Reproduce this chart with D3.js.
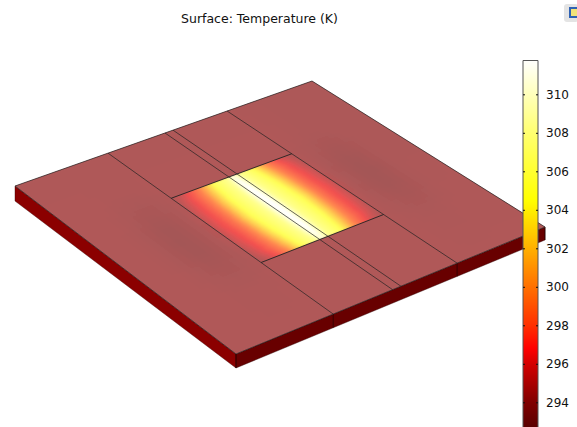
<!DOCTYPE html>
<meta charset="utf-8">
<style>
  html, body { margin: 0; background: #fff; }
  text { font-family: "DejaVu Sans", sans-serif; }
</style>
<script src="https://d3js.org/d3.v7.min.js"></script>
<div id="my_dataviz"></div>
<script>

// colorbar ticks (K)
var tickLabels = [294, 296, 298, 300, 302, 304, 306, 308, 310];

// colormap of the bar and the same map as it looks on the lit surface
var colorTemps = [292.7, 294, 296, 296.8, 298, 300, 302, 304.5, 308, 311.8];
var barColors = ['#5a0000', '#800000', '#d40000', '#ff0000', '#ff3000', '#ff7000', '#ffb000', '#ffff00', '#ffff70', '#ffffff'];
var surfaceTemps = [293.5, 295, 296.8, 298, 300, 302, 304.5, 308, 311];
var surfaceColors = ['#9d5656', '#b05858', '#f25050', '#fa6650', '#ff8a50', '#ffc050', '#ffff55', '#ffff90', '#ffffff'];

// plate temperatures: rows follow plateV, columns follow plateU
var plateU = [0, 0.08, 0.12, 0.16, 0.2, 0.24, 0.3, 0.5, 0.7, 0.76, 0.8, 0.84, 0.88, 0.92, 1];
var plateV = [0, 0.22, 0.32, 0.42, 0.5, 0.58, 0.68, 0.78, 1];
var plateTemps = [
  [294.9, 294.9, 294.9, 294.9, 294.9, 294.9, 294.9, 294.9, 294.9, 294.8, 294.8, 294.8, 294.8, 294.8, 294.8],
  [295.0, 295.0, 295.0, 294.9, 294.9, 294.9, 295.0, 295.0, 295.0, 294.9, 294.8, 294.8, 294.8, 294.8, 294.8],
  [295.0, 295.0, 294.9, 294.7, 294.5, 294.6, 295.0, 295.0, 295.0, 294.7, 294.5, 294.5, 294.7, 294.8, 294.8],
  [295.0, 295.0, 294.8, 294.4, 294.1, 294.4, 295.2, 295.0, 295.2, 294.5, 294.1, 294.2, 294.6, 294.8, 294.8],
  [295.0, 295.0, 294.8, 294.3, 294.0, 294.4, 295.3, 295.0, 295.3, 294.5, 294.0, 294.1, 294.6, 294.8, 294.8],
  [295.0, 295.0, 294.8, 294.4, 294.1, 294.4, 295.2, 295.0, 295.2, 294.5, 294.1, 294.2, 294.6, 294.8, 294.9],
  [295.0, 295.0, 294.9, 294.7, 294.5, 294.6, 295.0, 295.0, 295.0, 294.7, 294.5, 294.5, 294.7, 294.9, 294.9],
  [295.0, 295.0, 295.0, 294.9, 294.9, 294.9, 295.0, 295.0, 295.0, 294.9, 294.8, 294.8, 294.9, 294.9, 294.9],
  [295.0, 295.0, 295.0, 295.0, 295.0, 295.0, 295.0, 295.0, 295.0, 295.0, 295.0, 295.0, 295.0, 295.0, 295.0]
];

// heater temperatures, in the middle block of the plate
var heaterU = [0.3, 0.32, 0.34, 0.36, 0.38, 0.4, 0.42, 0.44, 0.46, 0.48, 0.5, 0.52, 0.54, 0.56, 0.58, 0.6, 0.62, 0.64, 0.66, 0.68, 0.7];
var heaterV = [0.3, 0.34, 0.4, 0.5, 0.6, 0.66, 0.7];
var heaterTemps = [
  [295.0, 295.4, 296.1, 297.2, 298.8, 300.8, 303.0, 305.0, 306.6, 308.0, 310.0, 308.0, 306.6, 305.0, 303.0, 300.8, 298.8, 297.2, 296.1, 295.4, 295.0],
  [295.2, 295.9, 296.7, 298.0, 299.6, 301.6, 303.6, 305.4, 306.9, 308.6, 311.0, 308.6, 306.9, 305.4, 303.6, 301.6, 299.6, 298.0, 296.7, 295.9, 295.2],
  [295.5, 296.2, 297.0, 298.3, 300.2, 302.3, 304.2, 305.8, 307.2, 309.0, 311.4, 309.0, 307.2, 305.8, 304.2, 302.3, 300.2, 298.3, 297.0, 296.2, 295.5],
  [295.6, 296.4, 297.2, 298.6, 300.6, 302.8, 304.6, 306.0, 307.4, 309.2, 311.7, 309.2, 307.4, 306.0, 304.6, 302.8, 300.6, 298.6, 297.2, 296.4, 295.6],
  [295.5, 296.2, 297.0, 298.3, 300.2, 302.3, 304.2, 305.8, 307.2, 309.0, 311.4, 309.0, 307.2, 305.8, 304.2, 302.3, 300.2, 298.3, 297.0, 296.2, 295.5],
  [295.2, 295.9, 296.7, 298.0, 299.6, 301.6, 303.6, 305.4, 306.9, 308.6, 311.0, 308.6, 306.9, 305.4, 303.6, 301.6, 299.6, 298.0, 296.7, 295.9, 295.2],
  [295.0, 295.4, 296.1, 297.2, 298.8, 300.8, 303.0, 305.0, 306.6, 308.0, 310.0, 308.0, 306.6, 305.0, 303.0, 300.8, 298.8, 297.2, 296.1, 295.4, 295.0]
];

// positions of the domain boundaries on the plate
var stripLines = [0.2986, 0.488, 0.515, 0.7];
var blockV = [0.3, 0.7];

var width = 577, height = 427;

var svg = d3.select("#my_dataviz")
  .append("svg")
    .attr("width", width)
    .attr("height", height)
    .style("display", "block");

// camera: unit square of the plate -> screen, with perspective
function project(u, v) {
  var w = 0.0706 * u - 0.0921 * v + 1;
  return [(319.03 * u + 199.27 * v + 15) / w, (-99.28 * u + 135.4 * v + 186) / w];
}
function poly(pts) {
  return pts.map(function(d) { return project(d[0], d[1]).join(","); }).join(" ");
}
// side thickness along the two visible edges
var depthFront = d3.scaleLinear().domain([0, 1]).range([14, 13]);
var depthLeft = d3.scaleLinear().domain([0, 1]).range([15, 14]);

var surfaceColor = d3.scaleLinear().domain(surfaceTemps).range(surfaceColors).clamp(true);
var barColor = d3.scaleLinear().domain(colorTemps).range(barColors).clamp(true);

// linear lookup between the table values, only used to shade each small facet
function lookup(us, vs, table, u, v) {
  var i = Math.min(Math.max(d3.bisectRight(us, u) - 1, 0), us.length - 2),
      j = Math.min(Math.max(d3.bisectRight(vs, v) - 1, 0), vs.length - 2),
      s = (u - us[i]) / (us[i + 1] - us[i]),
      t = (v - vs[j]) / (vs[j + 1] - vs[j]);
  var a = table[j][i] * (1 - s) + table[j][i + 1] * s,
      b = table[j + 1][i] * (1 - s) + table[j + 1][i + 1] * s;
  return a * (1 - t) + b * t;
}
function facets(g, us, vs, table, du, dv) {
  var cells = [];
  d3.range(us[0], us[us.length - 1] - 1e-6, du).forEach(function(u) {
    d3.range(vs[0], vs[vs.length - 1] - 1e-6, dv).forEach(function(v) {
      cells.push({u: u, v: v, t: lookup(us, vs, table, u + du / 2, v + dv / 2)});
    });
  });
  g.selectAll("polygon")
    .data(cells)
    .enter().append("polygon")
      .attr("points", function(d) {
        return poly([[d.u, d.v], [d.u + du, d.v], [d.u + du, d.v + dv], [d.u, d.v + dv]]);
      })
      .attr("shape-rendering", "crispEdges")
      .attr("fill", function(d) { return surfaceColor(d.t); })
      .attr("stroke", function(d) { return surfaceColor(d.t); })
      .attr("stroke-width", 1);
}

var defs = svg.append("defs");
defs.append("clipPath").attr("id", "plateClip")
  .append("polygon").attr("points", poly([[0, 0], [1, 0], [1, 1], [0, 1]]));
defs.append("clipPath").attr("id", "heaterClip")
  .append("polygon").attr("points", poly([[0.3, 0.3], [0.7, 0.3], [0.7, 0.7], [0.3, 0.7]]));
defs.append("filter").attr("id", "soft")
  .attr("x", "-5%").attr("y", "-5%").attr("width", "110%").attr("height", "110%")
  .append("feGaussianBlur").attr("stdDeviation", 0.8);

// title
svg.append("text")
  .attr("x", 259.5)
  .attr("y", 23)
  .attr("text-anchor", "middle")
  .attr("font-size", 12.5)
  .attr("fill", "#111")
  .text("Surface: Temperature (K)");

// little toolbar icon cut off by the window
var icon = svg.append("g");
icon.append("rect").attr("x", 564).attr("y", 4).attr("width", 14).attr("height", 18).attr("rx", 3).attr("fill", "#e4e4e4");
icon.append("rect").attr("x", 569).attr("y", 7).attr("width", 9).attr("height", 11).attr("fill", "#2f62b4");
icon.append("rect").attr("x", 571).attr("y", 9).attr("width", 7).attr("height", 7).attr("fill", "#f2e27a");

// sides of the plate
var p00 = project(0, 0), p01 = project(0, 1), p11 = project(1, 1);
svg.append("polygon")
  .attr("points", [p00, p01, [p01[0], p01[1] + depthLeft(1)], [p00[0], p00[1] + depthLeft(0)]].join(" "))
  .attr("fill", "#8b0000")
  .attr("stroke", "#3a0000")
  .attr("stroke-width", 0.4);
svg.append("polygon")
  .attr("points", [p01, p11, [p11[0], p11[1] + depthFront(1)], [p01[0], p01[1] + depthFront(0)]].join(" "))
  .attr("fill", "#680000")
  .attr("stroke", "#2a0000")
  .attr("stroke-width", 0.4);
[0, stripLines[0], stripLines[3], 1].forEach(function(u) {
  var p = project(u, 1);
  svg.append("line")
    .attr("x1", p[0]).attr("y1", p[1])
    .attr("x2", p[0]).attr("y2", p[1] + depthFront(u))
    .attr("stroke", "#220000").attr("stroke-width", 0.7);
});

// top surface
svg.append("polygon")
  .attr("points", poly([[0, 0], [1, 0], [1, 1], [0, 1]]))
  .attr("fill", surfaceColor(295));
var plateLayer = svg.append("g").attr("clip-path", "url(#plateClip)").append("g").attr("filter", "url(#soft)");
facets(plateLayer, plateU, plateV, plateTemps, 0.02, 0.02);
var heaterLayer = svg.append("g").attr("clip-path", "url(#heaterClip)").append("g").attr("filter", "url(#soft)");
facets(heaterLayer, heaterU, heaterV, heaterTemps, 0.005, 0.01);

// boundaries
var lines = svg.append("g").attr("fill", "none").attr("stroke", "#222");
lines.append("polyline")
  .attr("points", poly([[0, 1], [0, 0], [1, 0], [1, 1]]))
  .attr("stroke-width", 0.7);
lines.append("polyline")
  .attr("points", poly([[0, 1], [1, 1]]))
  .attr("stroke-width", 0.7);
lines.selectAll(".strip")
  .data(stripLines)
  .enter().append("polyline")
    .attr("class", "strip")
    .attr("points", function(d) { return poly([[d, 0], [d, 1]]); })
    .attr("stroke-width", 0.7);
lines.selectAll(".block")
  .data(blockV)
  .enter().append("polyline")
    .attr("class", "block")
    .attr("points", function(d) { return poly([[0.2986, d], [0.7, d]]); })
    .attr("stroke-width", 0.9);

// colorbar
var y = d3.scaleLinear().domain([294, 310]).range([402.3, 94.3]);
var barLeft = 523, barWidth = 15, barTop = 60.5;
var bar = svg.append("g");
bar.selectAll("rect")
  .data(d3.range(60, height + 1))
  .enter().append("rect")
    .attr("x", barLeft)
    .attr("y", function(d) { return d; })
    .attr("width", barWidth)
    .attr("height", 1)
    .attr("shape-rendering", "crispEdges")
    .attr("fill", function(d) { return barColor(y.invert(d + 0.5)); });
bar.append("path")
  .attr("d", "M" + barLeft + "," + (height + 2) + "V" + barTop + "H" + (barLeft + barWidth) + "V" + (height + 2))
  .attr("fill", "none")
  .attr("stroke", "#555")
  .attr("stroke-width", 1);

var axis = svg.append("g")
  .attr("transform", "translate(" + (barLeft + barWidth) + ",0)")
  .call(d3.axisRight(y).tickValues(tickLabels).tickSize(-2).tickPadding(8).tickFormat(d3.format("d")));
axis.select(".domain").remove();
axis.selectAll("line").attr("stroke", "#111");
axis.selectAll("text").attr("font-size", 12).attr("fill", "#111").attr("font-family", "DejaVu Sans");
axis.selectAll(".tick").append("line")
  .attr("x1", -barWidth).attr("x2", -barWidth + 2)
  .attr("stroke", "#111");

</script>
